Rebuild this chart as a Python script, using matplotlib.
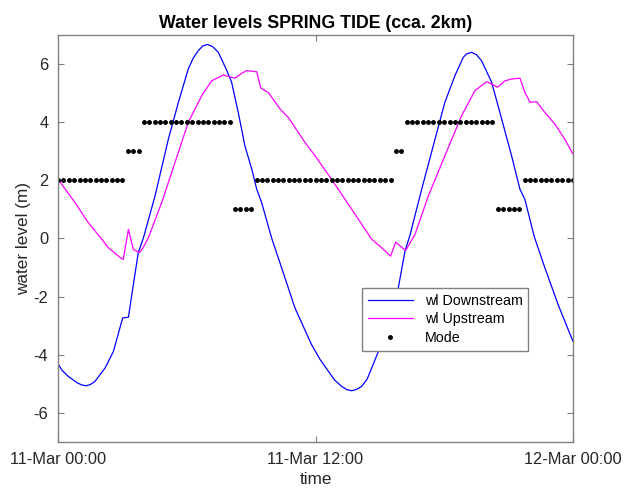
import numpy as np
import pandas as pd
import matplotlib
matplotlib.use("Agg")
import matplotlib.pyplot as plt
import matplotlib.dates as mdates

plt.rcParams['font.family'] = ['Liberation Sans', 'DejaVu Sans']
plt.rcParams['axes.unicode_minus'] = False

# hours after 11-Mar 00:00
t_down = [0, 0.2, 0.48, 0.9, 1.1, 1.3, 1.5, 1.72, 2.19, 2.58, 3.01, 3.28, 3.51, 3.74, 3.98, 4.52,
          5.14, 5.61, 6.07, 6.3, 6.54, 6.75, 6.97, 7.2, 7.47, 7.85, 8.09, 8.4, 8.71, 9.03, 9.26,
          9.49, 9.96, 10.42, 11.04, 11.82, 12.2, 12.6, 12.9, 13.22, 13.45, 13.68, 13.9, 14.15, 14.4,
          14.62, 14.93, 15.3, 15.86, 16.17, 16.4, 16.95, 17.57, 18.03, 18.5, 18.89, 19.05, 19.28,
          19.5, 19.74, 20.21, 20.68, 21.14, 21.53, 21.76, 22.2, 22.69, 23.31, 24]
wl_down = [-4.32, -4.55, -4.75, -4.97, -5.04, -5.07, -5.03, -4.92, -4.46, -3.89, -2.74, -2.71, -1.59, -0.49, 0.02, 1.46,
           3.41, 4.68, 5.83, 6.2, 6.46, 6.62, 6.67, 6.6, 6.40, 5.8, 5.37, 4.33, 3.18, 2.38, 1.69,
           1.23, 0.0, -1.01, -2.39, -3.66, -4.15, -4.57, -4.88, -5.09, -5.2, -5.24, -5.2, -5.09, -4.85,
           -4.46, -3.89, -2.9, -1.7, -0.44, 0.1, 1.69, 3.41, 4.68, 5.6, 6.23, 6.35, 6.40,
           6.32, 6.11, 5.37, 4.10, 2.84, 1.69, 1.34, 0.05, -1.01, -2.28, -3.54]

t_up = [0, 0.79, 1.41, 2.04, 2.34, 2.97, 3.04, 3.28, 3.51, 3.8, 3.98, 4.21, 4.83, 5.45, 6.07,
        6.7, 7.16, 7.7, 8.25, 8.5, 8.79, 9.26, 9.45, 9.8, 10.35, 10.73, 11.51, 11.98, 12.75, 13.69,
        14.62, 15.08, 15.5, 15.74, 16.2, 16.64, 17.26, 18.03, 18.81, 19.43, 19.98, 20.49, 20.83,
        21.14, 21.53, 21.76, 22.0, 22.31, 22.69, 23.16, 23.62, 24]
wl_up = [2.03, 1.23, 0.54, -0.03, -0.32, -0.70, -0.72, 0.31, -0.38, -0.49, -0.3, 0.02, 1.23, 2.61, 3.99,
         4.91, 5.42, 5.62, 5.51, 5.65, 5.77, 5.73, 5.17, 5.02, 4.45, 4.16, 3.30, 2.84, 2.03, 1.0,
         -0.03, -0.32, -0.61, -0.13, -0.42, 0.14, 1.46, 2.84, 4.22, 5.08, 5.39, 5.2, 5.42,
         5.48, 5.51, 5.02, 4.68, 4.70, 4.33, 3.93, 3.41, 2.9]

# mode, one value every 15 min from 11-Mar 00:00 to 12-Mar 00:00
mode = ([2] * 13 + [3] * 3 + [4] * 17 + [1] * 4 + [2] * 26 +
        [3] * 2 + [4] * 17 + [1] * 5 + [2] * 10)

start = pd.Timestamp('2019-03-11 00:00')
x_down = start + pd.to_timedelta(t_down, unit='h')
x_up = start + pd.to_timedelta(t_up, unit='h')
x_mode = pd.date_range(start, periods=len(mode), freq='15min')

fig = plt.figure(figsize=(6.31, 4.91), dpi=100)
ax = fig.add_axes([0.092, 0.1, 0.816, 0.829])

ax.plot(x_down, wl_down, color='#0000ff', lw=0.9, label='wl Downstream')
ax.plot(x_up, wl_up, color='#ff00ff', lw=0.9, label='wl Upstream')
ax.plot(x_mode, mode, '.', color='black', ms=5, label='Mode')

ax.set_xlim(start, start + pd.Timedelta(hours=24))
ax.set_ylim(-7, 7)
ax.set_xticks([start, start + pd.Timedelta(hours=12), start + pd.Timedelta(hours=24)])
ax.xaxis.set_major_formatter(mdates.DateFormatter('%d-%b %H:%M'))
ax.set_yticks([-6, -4, -2, 0, 2, 4, 6])

grey = '#262626'
for s in ax.spines.values():
    s.set_color('#808080')
    s.set_linewidth(1.0)
ax.tick_params(direction='in', length=4, width=0.8, color='#808080', labelcolor=grey,
               labelsize=11.8, top=True, right=True, pad=7)

ax.set_title('Water levels SPRING TIDE (cca. 2km)', fontsize=12.8, fontweight='bold', color='black', pad=5)
ax.set_xlabel('time', fontsize=12.3, color=grey, labelpad=4)
ax.set_ylabel('water level (m)', fontsize=12.3, color=grey, labelpad=2)

leg = ax.legend(loc='upper left', bbox_to_anchor=(0.59, 0.378), fontsize=10.3, fancybox=False,
                framealpha=1, edgecolor='#808080', borderaxespad=0, handlelength=3.2,
                labelspacing=0.32, borderpad=0.4)
leg.get_frame().set_linewidth(1.0)

fig.savefig('out.png', dpi=100)
